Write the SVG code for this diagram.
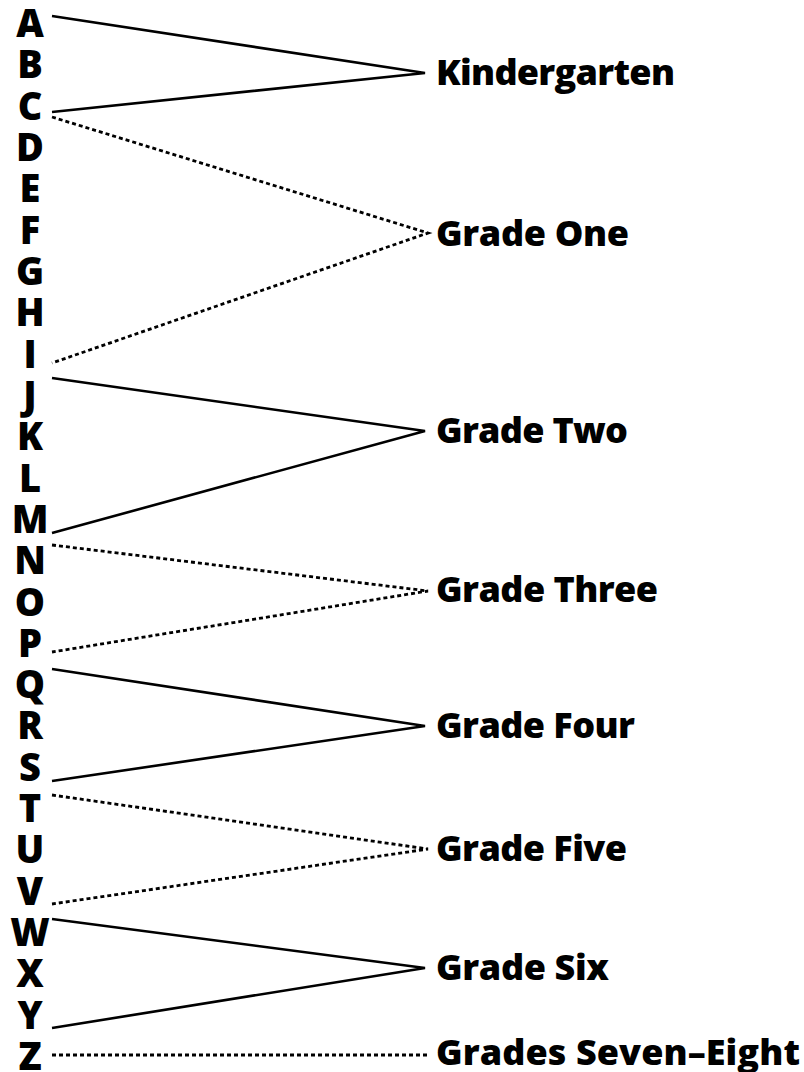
<svg xmlns="http://www.w3.org/2000/svg" width="804" height="1072" viewBox="0 0 804 1072">
<style>
.l{font-family:"Open Sans","Liberation Sans",sans-serif;font-weight:800;font-size:38px;fill:#000;text-anchor:middle}
.g{font-family:"Open Sans","Liberation Sans",sans-serif;font-weight:800;font-size:36px;fill:#000}
.s{stroke:#000;stroke-width:2.6;fill:none}
.d{stroke:#000;stroke-width:2.8;fill:none;stroke-dasharray:4 3}
</style>
<rect width="804" height="1072" fill="#fff"/>
<g id="letters">
<text class="l" x="30" y="37">A</text>
<text class="l" x="30" y="78.3">B</text>
<text class="l" x="30" y="119.6">C</text>
<text class="l" x="30" y="161">D</text>
<text class="l" x="30" y="202.3">E</text>
<text class="l" x="30" y="243.6">F</text>
<text class="l" x="30" y="284.9">G</text>
<text class="l" x="30" y="326.2">H</text>
<text class="l" x="30" y="367.6">I</text>
<text class="l" x="30" y="408.9">J</text>
<text class="l" x="30" y="450.2">K</text>
<text class="l" x="30" y="491.5">L</text>
<text class="l" x="30" y="532.8">M</text>
<text class="l" x="30" y="574.2">N</text>
<text class="l" x="30" y="615.5">O</text>
<text class="l" x="30" y="656.8">P</text>
<text class="l" x="30" y="698.1">Q</text>
<text class="l" x="30" y="739.4">R</text>
<text class="l" x="30" y="780.8">S</text>
<text class="l" x="30" y="822.1">T</text>
<text class="l" x="30" y="863.4">U</text>
<text class="l" x="30" y="904.7">V</text>
<text class="l" x="30" y="946">W</text>
<text class="l" x="30" y="987.4">X</text>
<text class="l" x="30" y="1028.7">Y</text>
<text class="l" x="30" y="1070">Z</text>
</g>
<g id="connectors">
<polyline class="s" points="52,16 425,73 52,112"/>
<polyline class="d" points="52,117 428,233 52,363"/>
<polyline class="s" points="52,378 425,431 52,533"/>
<polyline class="d" points="52,545 428,591 52,652"/>
<polyline class="s" points="52,669 425,726 52,781"/>
<polyline class="d" points="52,795 428,849 52,904"/>
<polyline class="s" points="52,919 425,968 52,1028"/>
<line class="d" x1="52" y1="1055" x2="428" y2="1055"/>
</g>
<g id="kindergarten"><text class="g" x="436" y="85" textLength="239">Kindergarten</text></g>
<g id="grade-one"><text class="g" x="436" y="246" textLength="193">Grade One</text></g>
<g id="grade-two"><text class="g" x="436" y="443" textLength="192">Grade Two</text></g>
<g id="grade-three"><text class="g" x="436" y="602" textLength="222">Grade Three</text></g>
<g id="grade-four"><text class="g" x="436" y="738" textLength="199">Grade Four</text></g>
<g id="grade-five"><text class="g" x="436" y="861" textLength="191">Grade Five</text></g>
<g id="grade-six"><text class="g" x="436" y="980" textLength="173">Grade Six</text></g>
<g id="grades-seven-eight"><text class="g" x="436" y="1065" textLength="364">Grades Seven–Eight</text></g>
</svg>
